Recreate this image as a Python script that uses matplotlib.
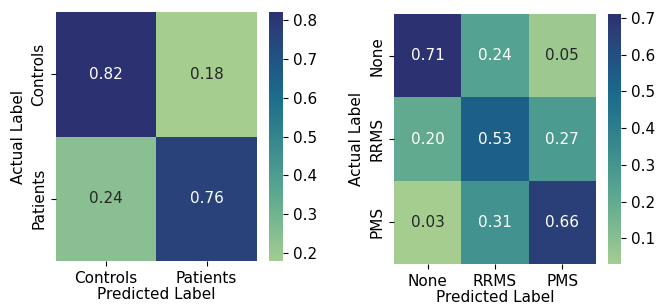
import matplotlib
matplotlib.use("Agg")
import matplotlib.pyplot as plt
import numpy as np
import seaborn as sns

# binary task
bin_labels = ["Controls", "Patients"]
bin_cm = np.array([[0.82, 0.18],
                   [0.24, 0.76]])

# three-class task
multi_labels = ["None", "RRMS", "PMS"]
multi_cm = np.array([[0.71, 0.24, 0.05],
                     [0.20, 0.53, 0.27],
                     [0.03, 0.31, 0.66]])

plt.rcParams["font.size"] = 11

fig = plt.figure(figsize=(6.56, 3.04), dpi=100)
ax1 = fig.add_axes([0.0854, 0.1414, 0.306, 0.819])
cax1 = fig.add_axes([0.410, 0.1414, 0.0213, 0.819])
ax2 = fig.add_axes([0.6006, 0.1316, 0.3079, 0.822])
cax2 = fig.add_axes([0.927, 0.1316, 0.0204, 0.822])

sns.heatmap(bin_cm, annot=True, fmt=".2f", cmap="crest", ax=ax1, cbar_ax=cax1,
            xticklabels=bin_labels, yticklabels=bin_labels,
            annot_kws={"fontsize": 11})
ax1.set_xlabel("Predicted Label", fontsize=11, labelpad=1)
ax1.set_ylabel("Actual Label", fontsize=11)

sns.heatmap(multi_cm, annot=True, fmt=".2f", cmap="crest", ax=ax2, cbar_ax=cax2,
            xticklabels=multi_labels, yticklabels=multi_labels,
            annot_kws={"fontsize": 11})
ax2.set_xlabel("Predicted Label", fontsize=11, labelpad=1)
ax2.set_ylabel("Actual Label", fontsize=11)

for ax in (ax1, ax2):
    ax.tick_params(labelsize=11)
for cax in (cax1, cax2):
    cax.tick_params(labelsize=11)

fig.savefig("out.png", dpi=100)
